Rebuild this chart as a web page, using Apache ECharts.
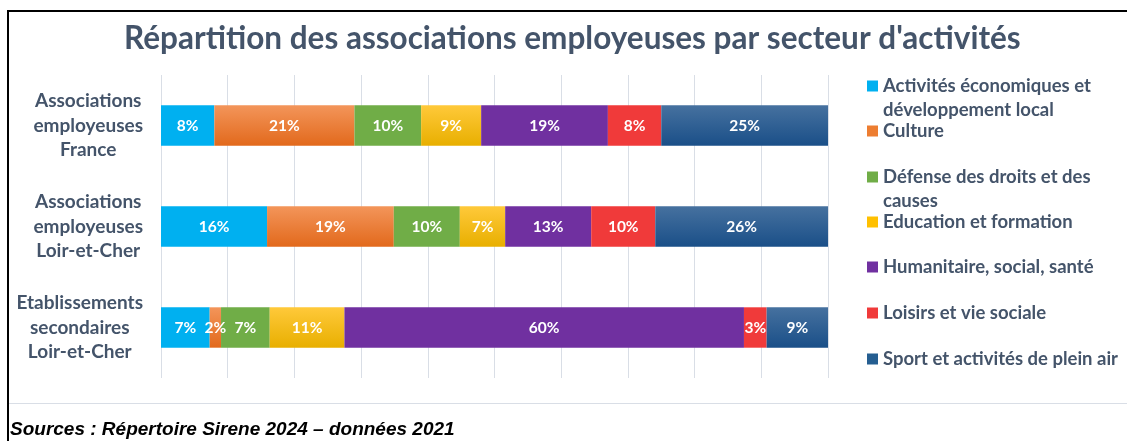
<!DOCTYPE html>
<html>
<head>
<meta charset="utf-8">
<script src="https://cdn.jsdelivr.net/npm/echarts@6/dist/echarts.min.js"></script>
<style>
html,body{margin:0;padding:0;background:#fff;}
#chart{width:1127px;height:441px;}
</style>
</head>
<body>
<div id="chart"></div>
<script>
// ---- data ----
const categories = [
  'Associations\nemployeuses\nFrance',
  'Associations\nemployeuses\nLoir-et-Cher',
  'Etablissements\nsecondaires\nLoir-et-Cher'
];
const sectors = [
  'Activités économiques et développement local',
  'Culture',
  'Défense des droits et des causes',
  'Education et formation',
  'Humanitaire, social, santé',
  'Loisirs et vie sociale',
  'Sport et activités de plein air'
];
const legendLabels = [
  'Activités économiques et\ndéveloppement local',
  'Culture',
  'Défense des droits et des\ncauses',
  'Education et formation',
  'Humanitaire, social, santé',
  'Loisirs et vie sociale',
  'Sport et activités de plein air'
];
const activites   = [8, 15.9, 7.3];
const culture     = [21, 19.0, 1.7];
const defense     = [10, 9.9, 7.3];
const education   = [9, 6.8, 11.2];
const humanitaire = [19, 12.9, 59.9];
const loisirs     = [8, 9.6, 3.4];
const sport       = [25, 25.9, 9.2];
const seriesValues = [activites, culture, defense, education, humanitaire, loisirs, sport];

// ---- styles ----
const grad = (a, b) => new echarts.graphic.LinearGradient(0, 0, 0, 1, [{offset: 0, color: a}, {offset: 1, color: b}]);
const colors = [
  '#00B0F0',
  grad('#F3955A', '#E2691C'),
  '#70AD47',
  grad('#FFC93A', '#E8AF00'),
  '#7030A0',
  '#F03A3A',
  grad('#46719F', '#1A4F88')
];
const legendIconColors = ['#00B0F0', '#ED7D31', '#70AD47', '#FFC000', '#7030A0', '#F03A3A', '#255E91'];
const legendTops = [50, 119, 141, 210, 255, 301, 347];
const textColor = '#44546A';
const font = 'Lato';

const chart = echarts.init(document.getElementById('chart'), null, {renderer: 'canvas'});
const option = {
  backgroundColor: '#fff',
  animation: false,
  title: [
    {
      text: "Répartition des associations employeuses par secteur d'activités",
      left: 124, top: 23, padding: 0,
      textStyle: {fontFamily: font, fontSize: 31.5, fontWeight: 'bold', color: textColor}
    },
    {
      text: 'Sources : Répertoire Sirene 2024 – données 2021',
      left: 10, top: 420, padding: 0,
      textStyle: {fontFamily: 'Liberation Sans', fontSize: 19, fontWeight: 'bold', fontStyle: 'italic', color: '#000'}
    }
  ],
  graphic: [
    {type: 'rect', shape: {x: 8, y: 10, width: 1119, height: 2}, style: {fill: '#000'}, silent: true},
    {type: 'rect', shape: {x: 7, y: 10, width: 2, height: 431}, style: {fill: '#000'}, silent: true},
    {type: 'rect', shape: {x: 9, y: 403, width: 1118, height: 1}, style: {fill: '#D9DEE6'}, silent: true}
  ],
  grid: {left: 161, right: 299, top: 75, height: 303, containLabel: false},
  xAxis: {
    type: 'value', min: 0, max: 100, interval: 10,
    axisLabel: {show: false}, axisLine: {show: false}, axisTick: {show: false},
    splitLine: {show: true, lineStyle: {color: '#D9DEE6', width: 1}}
  },
  yAxis: {
    type: 'category', data: categories, inverse: true,
    axisLine: {show: false}, axisTick: {show: false},
    axisLabel: {
      align: 'right', margin: 18,
      formatter: v => v.split('\n').map(l => '{c|' + l + '}').join('\n'),
      rich: {
        c: {align: 'center', fontFamily: font, fontSize: 19, fontWeight: 'bold', color: textColor, lineHeight: 24.5}
      }
    }
  },
  legend: sectors.map((s, i) => ({
    data: [{name: s, itemStyle: {color: legendIconColors[i]}}],
    orient: 'vertical', left: 867, top: legendTops[i], padding: 0,
    itemWidth: 11, itemHeight: 11, icon: 'rect', selectedMode: false,
    formatter: () => (legendLabels[i].includes('\n') ? '\n' : '') + legendLabels[i],
    textStyle: {
      fontFamily: font, fontSize: 18.5, fontWeight: 'bold', color: textColor, lineHeight: 24
    }
  })),
  series: sectors.map((s, i) => ({
    name: s, type: 'bar', stack: 'total', barWidth: '40%',
    data: seriesValues[i],
    itemStyle: {color: colors[i]},
    label: {
      show: true, position: 'inside', color: '#fff',
      fontFamily: font, fontSize: 15.5, fontWeight: 'bold',
      formatter: p => Math.round(p.value) + '%'
    }
  }))
};
chart.setOption(option);
</script>
</body>
</html>
